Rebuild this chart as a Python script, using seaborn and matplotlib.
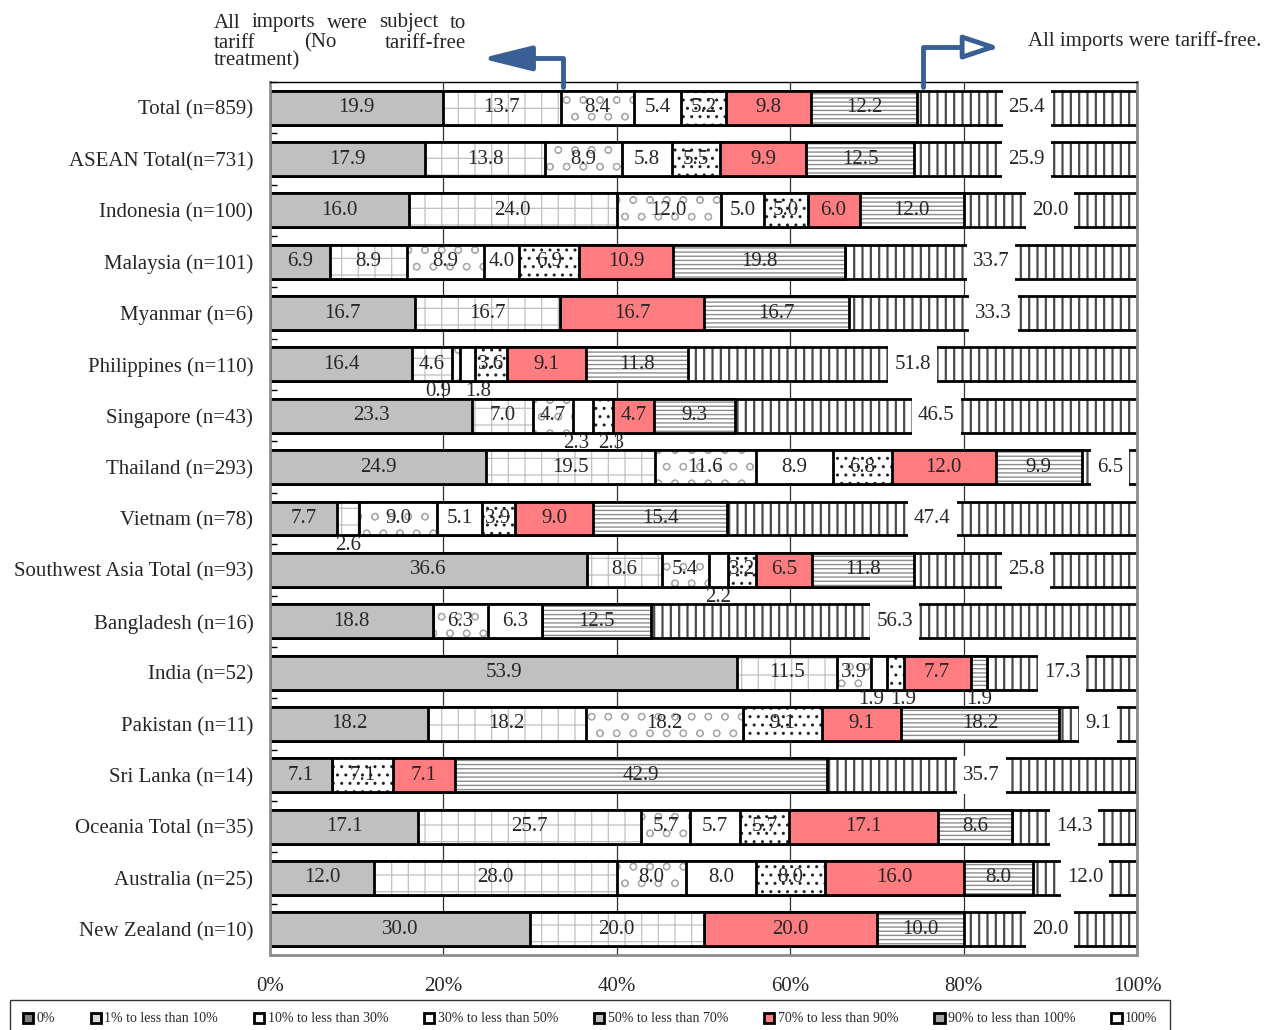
import matplotlib
matplotlib.use("Agg")
import matplotlib.pyplot as plt
import seaborn as sns
import numpy as np
import pandas as pd
from matplotlib.colors import to_rgba
from matplotlib.patches import Patch, Rectangle, FancyArrowPatch

# ---------------------------------------------------------------- data
regions = [
    "Total (n=859)", "ASEAN Total(n=731)", "Indonesia (n=100)", "Malaysia (n=101)",
    "Myanmar (n=6)", "Philippines (n=110)", "Singapore (n=43)", "Thailand (n=293)",
    "Vietnam (n=78)", "Southwest Asia Total (n=93)", "Bangladesh (n=16)",
    "India (n=52)", "Pakistan (n=11)", "Sri Lanka (n=14)", "Oceania Total (n=35)",
    "Australia (n=25)", "New Zealand (n=10)",
]

bands = [
    "0%", "1% to less than 10%", "10% to less than 30%", "30% to less than 50%",
    "50% to less than 70%", "70% to less than 90%", "90% to less than 100%", "100%",
]

share_0 = [19.9, 17.9, 16.0, 6.9, 16.7, 16.4, 23.3, 24.9, 7.7, 36.6, 18.8, 53.9, 18.2, 7.1, 17.1, 12.0, 30.0]
share_1_10 = [13.7, 13.8, 24.0, 8.9, 16.7, 4.6, 7.0, 19.5, 2.6, 8.6, 0.0, 11.5, 18.2, 0.0, 25.7, 28.0, 20.0]
share_10_30 = [8.4, 8.9, 12.0, 8.9, 0.0, 0.9, 4.7, 11.6, 9.0, 5.4, 6.3, 3.9, 18.2, 0.0, 5.7, 8.0, 0.0]
share_30_50 = [5.4, 5.8, 5.0, 4.0, 0.0, 1.8, 2.3, 8.9, 5.1, 2.2, 6.3, 1.9, 0.0, 0.0, 5.7, 8.0, 0.0]
share_50_70 = [5.2, 5.5, 5.0, 6.9, 0.0, 3.6, 2.3, 6.8, 3.9, 3.2, 0.0, 1.9, 9.1, 7.1, 5.7, 8.0, 0.0]
share_70_90 = [9.8, 9.9, 6.0, 10.9, 16.7, 9.1, 4.7, 12.0, 9.0, 6.5, 0.0, 7.7, 9.1, 7.1, 17.1, 16.0, 20.0]
share_90_100 = [12.2, 12.5, 12.0, 19.8, 16.7, 11.8, 9.3, 9.9, 15.4, 11.8, 12.5, 1.9, 18.2, 42.9, 8.6, 8.0, 10.0]
share_100 = [25.4, 25.9, 20.0, 33.7, 33.3, 51.8, 46.5, 6.5, 47.4, 25.8, 56.3, 17.3, 9.1, 35.7, 14.3, 12.0, 20.0]

shares = [share_0, share_1_10, share_10_30, share_30_50,
          share_50_70, share_70_90, share_90_100, share_100]

# fill, hatch, hatch colour for each band
faces = ["#c0c0c0", "white", "white", "white", "white", "#ff7c80", "white", "white"]
hatches = [None, "+", "o", None, "..", None, "----", "||"]
hatch_cols = ["#000000", "#c0c0c0", "#a8a8a8", "#000000", "#222222", "#000000", "#8c8c8c", "#4a4a4a"]
hatch_lws = [1.0, 0.9, 0.8, 1.0, 1.0, 1.0, 1.0, 1.6]
legend_faces = ["#7f7f7f", "#d9d9d9", "#ffffff", "#ffffff", "#bfbfbf", "#ff7c80", "#a6a6a6", "#ffffff"]

# small values printed under the bar are nudged sideways (region index, band) -> shift in %
nudges = {(5, 2): -2.0, (5, 3): 1.2, (6, 3): -0.8, (6, 4): 0.9, (11, 3): -0.9, (11, 4): 0.9}

# ---------------------------------------------------------------- style
sns.set_style("white")
plt.rcParams["font.family"] = ["Liberation Serif", "DejaVu Serif"]
plt.rcParams["hatch.linewidth"] = 1.2

W, H = 1266, 1030
fig = plt.figure(figsize=(W / 100, H / 100), dpi=100)
ax = fig.add_axes([270 / W, 1 - 955 / H, (1137 - 270) / W, (955 - 82) / H])

BAR_H = 0.66
FS = 15

shares_arr = np.array(shares)
cum = np.cumsum(shares_arr, axis=0)
df = pd.DataFrame({"region": regions})
for k in range(len(bands)):
    df[f"cum{k}"] = cum[k]

# stacked bars: cumulative layers drawn from the longest to the shortest
for k in reversed(range(len(bands))):
    sns.barplot(data=df, x=f"cum{k}", y="region", orient="h", color=faces[k],
                saturation=1, width=BAR_H, errorbar=None, ax=ax)
    for p in ax.containers[-1]:
        p.set_facecolor(faces[k])
        p.set_edgecolor("black")
        p.set_linewidth(2.0)
        if hatches[k]:
            p.set_hatch(hatches[k])
            if hasattr(p, "set_hatchcolor"):
                p.set_hatchcolor(hatch_cols[k])
            else:
                p._hatch_color = to_rgba(hatch_cols[k])
            if hasattr(p, "set_hatch_linewidth"):
                p.set_hatch_linewidth(hatch_lws[k])

n = len(regions)
ax.set_xlim(0, 100)
ax.set_ylim(n - 0.5, -0.5)
ax.set_xlabel("")
ax.set_ylabel("")

# axes furniture
ax.set_xticks(np.arange(0, 101, 20))
ax.set_xticklabels([f"{v}%" for v in range(0, 101, 20)], fontsize=FS)
ax.set_yticks(np.arange(n))
ax.set_yticklabels(regions, fontsize=FS)
ax.set_yticks(np.arange(-0.5, n, 1), minor=True)
ax.tick_params(axis="x", which="both", length=0, pad=16)
ax.tick_params(axis="y", which="major", length=0, pad=12)
ax.tick_params(axis="y", which="minor", direction="in", length=5, width=1,
               color="black", left=True)
ax.set_axisbelow(True)
ax.grid(axis="x", color="#333333", linewidth=0.9)
ax.grid(axis="y", visible=False)
for side in ["left", "right", "bottom"]:
    ax.spines[side].set_color("#8c8c8c")
    ax.spines[side].set_linewidth(2)
ax.spines["top"].set_color("black")
ax.spines["top"].set_linewidth(1)

# value labels
renderer = fig.canvas.get_renderer()
for i in range(n):
    left = 0.0
    for k in range(len(bands)):
        v = shares[k][i]
        if v <= 0:
            continue
        centre = left + v / 2
        txt = f"{v:.1f}"
        if k == len(bands) - 1:
            t = ax.text(centre, i, txt, ha="center", va="center", fontsize=FS, zorder=6)
            bb = t.get_window_extent(renderer)
            wdata = (bb.width + 12) / ax.bbox.width * 100
            ax.add_patch(Rectangle((centre - wdata / 2, i - BAR_H / 2 - 0.04), wdata,
                                   BAR_H + 0.08, facecolor="white", edgecolor="none",
                                   zorder=5))
        elif v >= 3:
            ax.text(centre, i, txt, ha="center", va="center", fontsize=FS, zorder=6)
        else:
            ax.text(centre + nudges.get((i, k), 0.0), i + 0.53, txt, ha="center",
                    va="center", fontsize=FS, zorder=6)
        left += v

# arrows marking the two extreme groups
arrow_col = "#3a5f94"
y_top = -BAR_H / 2 - 0.02
left_arrow = FancyArrowPatch(
    (cum[1][0] + 0.2, y_top), (24.0, -0.96),
    connectionstyle="angle,angleA=90,angleB=0,rad=0",
    arrowstyle="-|>,head_length=1.7,head_width=0.42", mutation_scale=18,
    color=arrow_col, linewidth=3.5, clip_on=False, zorder=8)
right_arrow = FancyArrowPatch(
    (cum[6][0] + 0.7, y_top), (84.5, -1.18),
    connectionstyle="angle,angleA=90,angleB=0,rad=0",
    arrowstyle="-|>,head_length=1.2,head_width=0.4", mutation_scale=18,
    facecolor="white", edgecolor=arrow_col, linewidth=3.5, clip_on=False, zorder=8)
ax.add_patch(left_arrow)
ax.add_patch(right_arrow)

fig.text(1028 / W, 1 - 41 / H, "All imports were tariff-free.", ha="left",
         va="center", fontsize=FS)


def justified(words, x0, x1, y):
    texts = [fig.text(0, 1 - y / H, w, ha="left", va="center", fontsize=FS)
             for w in words]
    widths = [t.get_window_extent(renderer).width for t in texts]
    gap = ((x1 - x0) - sum(widths)) / max(len(words) - 1, 1)
    x = x0
    for t, w in zip(texts, widths):
        t.set_x(x / W)
        x += w + gap


justified(["All", "imports", "were", "subject", "to"], 214, 466, 23)
justified(["tariff", "(No", "tariff-free"], 214, 466, 43)
fig.text(214 / W, 1 - 61 / H, "treatment)", ha="left", va="center", fontsize=FS)

# legend
handles = [Patch(facecolor=legend_faces[k], edgecolor="black", linewidth=2.0)
           for k in range(len(bands))]
leg = fig.legend(handles, bands, loc="upper left", ncol=8, mode="expand",
                 bbox_to_anchor=(10 / W, 0, 1160 / W, 1 - 1000 / H),
                 borderaxespad=0, fontsize=10, frameon=True, fancybox=False,
                 handlelength=0.75, handleheight=0.75, handletextpad=0.25,
                 borderpad=0.9)
leg.get_frame().set_edgecolor("black")
leg.get_frame().set_linewidth(1.0)

fig.savefig("out.png", dpi=100)
